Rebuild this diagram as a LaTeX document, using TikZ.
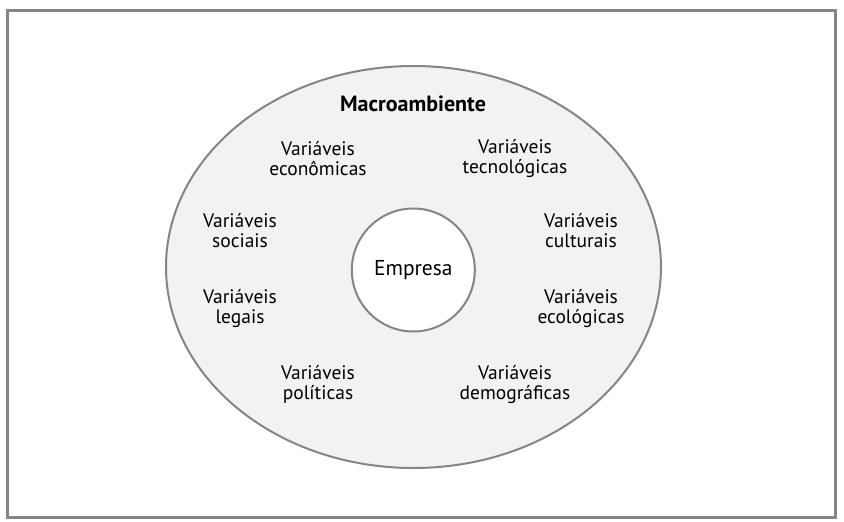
\documentclass[tikz,border=0pt]{standalone}
\usepackage{fontspec}
\setmainfont{PT Sans}
\usetikzlibrary{shapes.geometric}

\definecolor{linegray}{HTML}{858585}
\definecolor{fillgray}{HTML}{F2F2F2}

\tikzset{
  var/.style={align=center, inner sep=0pt, font=\fontsize{19.5}{20}\selectfont},
}

\begin{document}
\begin{tikzpicture}[x=1pt, y=-1pt]
\useasboundingbox (0,0) rectangle (844,522);
\draw[linegray, line width=3pt] (7.5,10.5) rectangle (835,517);

\node[ellipse, draw=linegray, line width=2pt, fill=fillgray, minimum width=495pt, minimum height=402pt] (macro) at (413.5,267) {};
\node[circle, draw=linegray, line width=2pt, fill=white, minimum size=123pt, var, font=\fontsize{21.5}{22}\selectfont] (empresa) at (413.3,270) {Empresa};

\node[var, font=\fontsize{22}{22}\selectfont\bfseries] (titulo) at (413,104) {Macroambiente};

\node[var] (econ) at (318,158.5) {Variáveis\\econômicas};
\node[var] (tecn) at (515,158.5) {Variáveis\\tecnológicas};
\node[var] (soci) at (240,230.5) {Variáveis\\sociais};
\node[var] (cult) at (581,230.5) {Variáveis\\culturais};
\node[var] (lega) at (240,308.5) {Variáveis\\legais};
\node[var] (ecol) at (581,308.5) {Variáveis\\ecológicas};
\node[var] (poli) at (318,384.5) {Variáveis\\políticas};
\node[var] (demo) at (515,384.5) {Variáveis\\demográficas};

\end{tikzpicture}
\end{document}
